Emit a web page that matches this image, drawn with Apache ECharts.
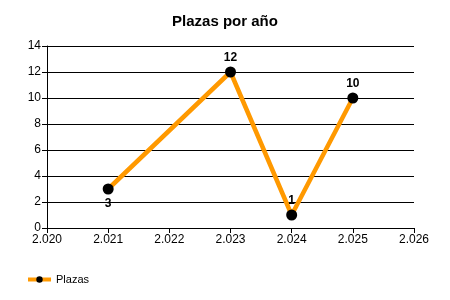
<!DOCTYPE html>
<html><head><meta charset="utf-8">
<script src="https://cdn.jsdelivr.net/npm/echarts@6/dist/echarts.min.js"></script>
<style>html,body{margin:0;padding:0;background:#fff}#c{width:450px;height:300px}</style>
</head><body><div id="c"></div>
<script>
var years = [2021, 2023, 2024, 2025];
var plazas = [3, 12, 1, 10];
var labelPos = ['bottom', 'top', 'top', 'top'];
var chart = echarts.init(document.getElementById('c'), null, {renderer: 'canvas'});
var data = years.map(function (y, i) {
  return {value: [y, plazas[i]], label: {position: labelPos[i]}};
});
chart.setOption({
  animation: false,
  backgroundColor: '#fff',
  title: {text: 'Plazas por año', left: 'center', top: 9,
    textStyle: {fontFamily: 'Liberation Sans, Arial', fontSize: 15, fontWeight: 'bold', color: '#000'}},
  grid: {left: 47, right: 36, top: 46, bottom: 72},
  legend: {left: 21, bottom: 10, itemWidth: 23, itemHeight: 8, itemGap: 6,
    lineStyle: {width: 4, color: '#FF9900'},
    textStyle: {fontFamily: 'Liberation Sans, Arial', fontSize: 11, color: '#000'},
    data: ['Plazas']},
  xAxis: {type: 'value', min: 2020, max: 2026, interval: 1,
    axisLine: {lineStyle: {color: '#000'}},
    axisTick: {length: 5, lineStyle: {color: '#000'}},
    splitLine: {show: false},
    axisLabel: {fontFamily: 'Liberation Sans, Arial', fontSize: 12, color: '#000', margin: 6,
      formatter: function (v) { var s = String(v); return s.charAt(0) + '.' + s.slice(1); }}},
  yAxis: {type: 'value', min: 0, max: 14, interval: 2,
    axisLine: {show: true, lineStyle: {color: '#000'}},
    axisTick: {show: true, length: 5, lineStyle: {color: '#000'}},
    splitLine: {lineStyle: {color: '#000'}},
    axisLabel: {fontFamily: 'Liberation Sans, Arial', fontSize: 12, color: '#000', margin: 6}},
  series: [{
    name: 'Plazas', type: 'line', data: data,
    color: '#000',
    lineStyle: {color: '#FF9900', width: 4.5},
    itemStyle: {color: '#000'},
    symbol: 'circle', symbolSize: 11,
    label: {show: true, fontFamily: 'Liberation Sans, Arial', fontSize: 12, fontWeight: 'bold', color: '#000', distance: 3}
  }]
});
</script></body></html>
